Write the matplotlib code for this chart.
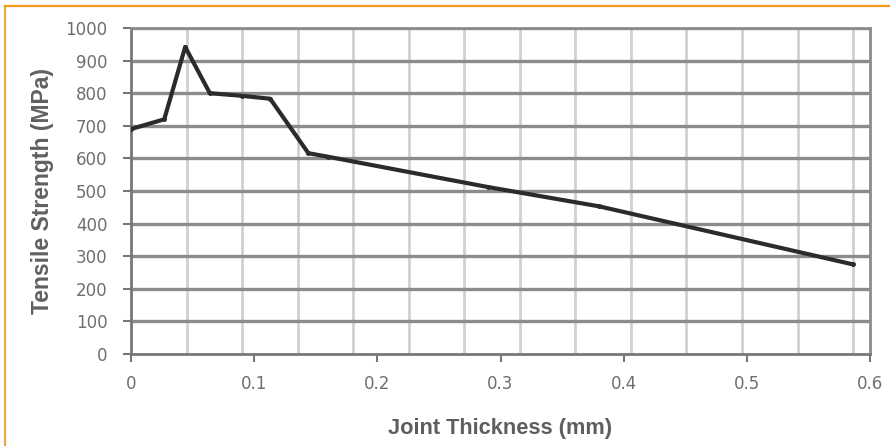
import matplotlib
matplotlib.use("Agg")
import matplotlib.pyplot as plt
from matplotlib.lines import Line2D
import numpy as np

# Data
thickness_mm = [0.0, 0.027, 0.044, 0.064, 0.09, 0.113, 0.144, 0.16, 0.29, 0.38, 0.586]
strength_mpa = [690, 720, 942, 800, 792, 783, 616, 605, 512, 453, 275]
x_ticks = [0, 0.1, 0.2, 0.3, 0.4, 0.5, 0.6]
x_tick_labels = ["0", "0.1", "0.2", "0.3", "0.4", "0.5", "0.6"]
y_ticks = [0, 100, 200, 300, 400, 500, 600, 700, 800, 900, 1000]
x_grid_step = 0.0451

fig = plt.figure(figsize=(8.9, 4.46), dpi=100)
fig.patch.set_facecolor("white")
ax = fig.add_axes([131/890, 1-354/446, (870-131)/890, (354-28)/446])

# vertical (light) gridlines
for gx in np.arange(x_grid_step, 0.6, x_grid_step):
    ax.axvline(gx, color="#d0d0d0", lw=2.0, zorder=1)
# horizontal (dark) gridlines
for gy in y_ticks[1:]:
    ax.axhline(gy, color="#8c8c8c", lw=2.4, zorder=2)

ax.plot(thickness_mm, strength_mpa, color="#2b2b2b", lw=3.0, zorder=5,
        solid_joinstyle="round", marker="o", markersize=2.5)

ax.set_xlim(0, 0.6)
ax.set_ylim(0, 1000)
ax.set_xticks(x_ticks)
ax.set_xticklabels(x_tick_labels)
ax.set_yticks(y_ticks)

for s in ["left", "bottom"]:
    ax.spines[s].set_color("#777777")
    ax.spines[s].set_linewidth(2.0)
for s in ["right", "top"]:
    ax.spines[s].set_color("#8c8c8c")
    ax.spines[s].set_linewidth(2.0)

ax.tick_params(axis="both", direction="out", length=6, width=1.5, color="#777777",
               labelcolor="#6e6e6e", labelsize=12)
ax.tick_params(axis="x", pad=9)
ax.tick_params(axis="y", pad=11)
for lab in ax.get_xticklabels() + ax.get_yticklabels():
    lab.set_family("DejaVu Sans")

ax.set_xlabel("Joint Thickness (mm)", fontsize=15.7, fontweight="bold",
              color="#5e5e5e", family=["Liberation Sans", "DejaVu Sans"], labelpad=18)
ax.set_ylabel("Tensile Strength (MPa)", fontsize=16.5, fontweight="bold",
              color="#606060", family=["Liberation Sans", "DejaVu Sans"], labelpad=8)

# orange frame (left and top)
fig.add_artist(Line2D([4.5/890, 4.5/890], [0, 1-5.5/446], transform=fig.transFigure,
                      color="#f0a840", lw=1.6))
fig.add_artist(Line2D([4.5/890, 1], [1-5.5/446, 1-5.5/446], transform=fig.transFigure,
                      color="#f39a1a", lw=1.6))

fig.savefig("out.png", dpi=100, facecolor="white")
